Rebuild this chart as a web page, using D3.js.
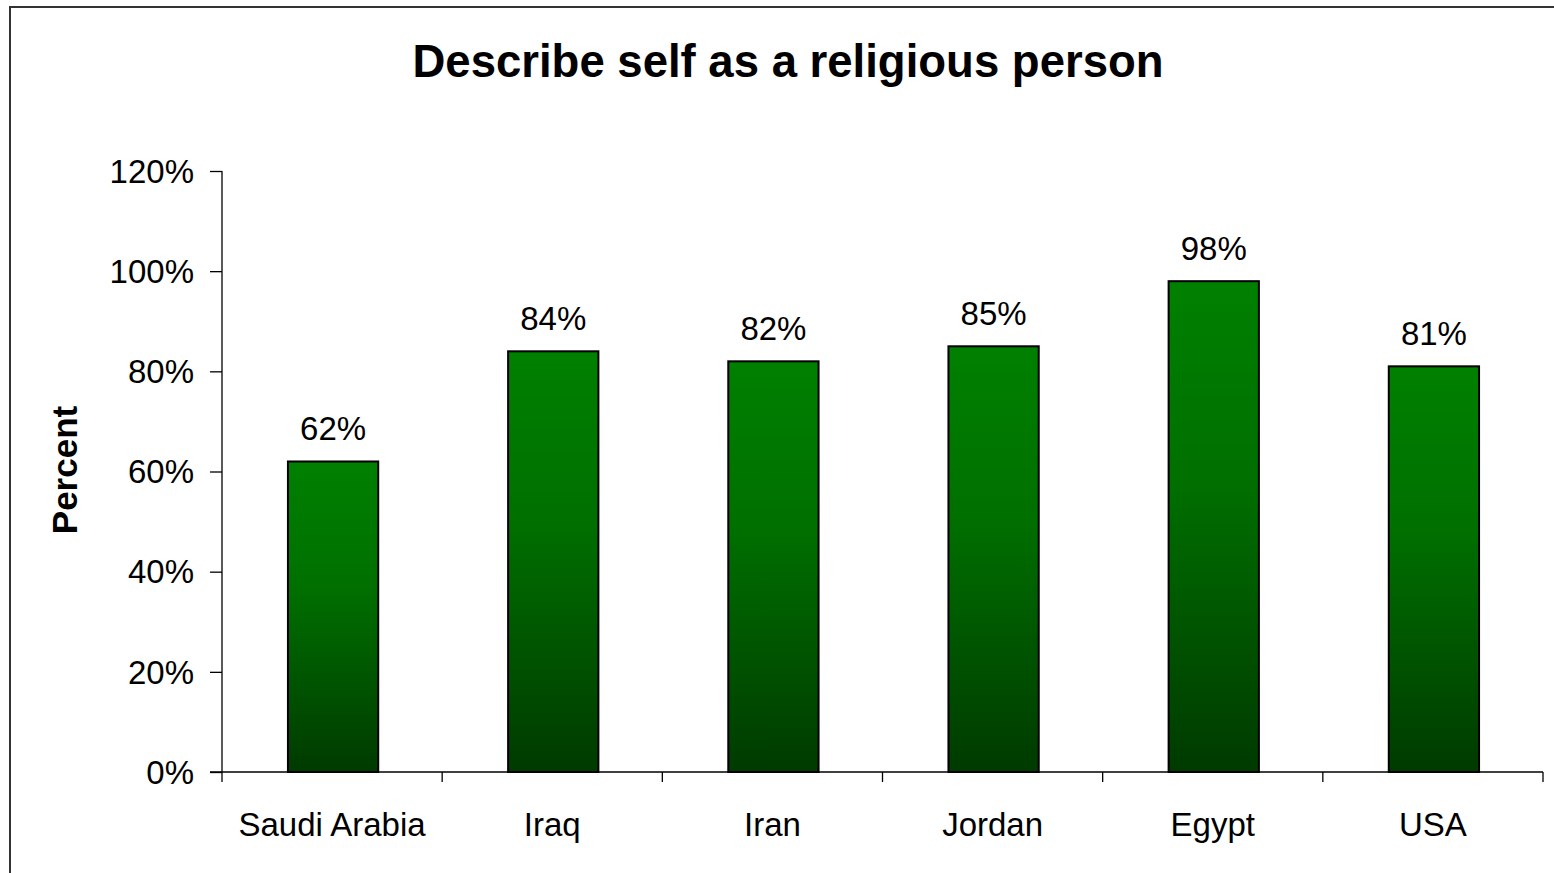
<!DOCTYPE html>
<html><head><meta charset="utf-8">
<script src="https://cdn.jsdelivr.net/npm/d3@7"></script>
<style>html,body{margin:0;padding:0;background:#fff;overflow:hidden}</style>
</head><body>
<svg id="chart" width="1554" height="873"></svg>
<script>
const categories = ["Saudi Arabia", "Iraq", "Iran", "Jordan", "Egypt", "USA"];
const values = [62, 84, 82, 85, 98, 81];
const yTicks = [0, 20, 40, 60, 80, 100, 120];
const title = "Describe self as a religious person";
const yTitle = "Percent";

const svg = d3.select("#chart");
const font = "'Liberation Sans', Arial, sans-serif";

// frame
svg.append("rect").attr("x", 10).attr("y", 7).attr("width", 1560).attr("height", 880)
  .attr("fill", "none").attr("stroke", "#333").attr("stroke-width", 2);

const m = {left: 222, right: 1543, top: 171, bottom: 772};
const x = d3.scaleBand().domain(categories).range([m.left, m.right]).paddingInner(0.59).paddingOuter(0.295);
const xOuter = d3.scaleBand().domain(categories).range([m.left, m.right]);
const y = d3.scaleLinear().domain([0, 120]).range([m.bottom, m.top]);

const defs = svg.append("defs");
const grad = defs.append("linearGradient").attr("id", "g").attr("x1", 0).attr("y1", 0).attr("x2", 0).attr("y2", 1);
grad.append("stop").attr("offset", "0%").attr("stop-color", "#008000");
grad.append("stop").attr("offset", "40%").attr("stop-color", "#007000");
grad.append("stop").attr("offset", "100%").attr("stop-color", "#003a00");

// title
svg.append("text").attr("x", 788).attr("y", 77).attr("text-anchor", "middle")
  .attr("font-family", font).attr("font-weight", "bold").attr("font-size", 45.5).text(title);

// y axis
const yAxis = svg.append("g").attr("transform", `translate(${m.left},0)`)
  .call(d3.axisLeft(y).tickValues(yTicks).tickFormat(d => d + "%").tickSize(12).tickPadding(16));
yAxis.select(".domain").attr("stroke", "#000").attr("stroke-width", 1.3).attr("d", `M0,${m.top}V${m.bottom}`);
yAxis.selectAll("line").attr("stroke", "#000").attr("stroke-width", 1.3);
yAxis.selectAll("text").attr("font-family", font).attr("font-size", 33).attr("fill", "#000").attr("dy", "0.34em");

// bars
svg.append("g").selectAll("rect").data(values).join("rect")
  .attr("x", (d, i) => x(categories[i]) + 1)
  .attr("y", d => y(d))
  .attr("width", x.bandwidth())
  .attr("height", d => y(0) - y(d))
  .attr("fill", "url(#g)")
  .attr("stroke", "#000").attr("stroke-width", 2);

// x axis
const xAxisG = svg.append("g").attr("transform", `translate(0,${m.bottom})`);
xAxisG.append("line").attr("x1", m.left - 12).attr("x2", m.right).attr("y1", 0).attr("y2", 0)
  .attr("stroke", "#000").attr("stroke-width", 1.5);
const bounds = categories.map(c => xOuter(c)).concat([m.right]);
xAxisG.selectAll("line.t").data(bounds).join("line").attr("class", "t")
  .attr("x1", d => d).attr("x2", d => d).attr("y1", 0).attr("y2", 10)
  .attr("stroke", "#000").attr("stroke-width", 1.3);
xAxisG.selectAll("text").data(categories).join("text")
  .attr("x", d => xOuter(d) + xOuter.bandwidth() / 2).attr("y", 64)
  .attr("text-anchor", "middle").attr("font-family", font).attr("font-size", 33).text(d => d);

// data labels
svg.append("g").selectAll("text").data(values).join("text")
  .attr("x", (d, i) => x(categories[i]) + x.bandwidth() / 2 + 1)
  .attr("y", d => y(d) - 21)
  .attr("text-anchor", "middle").attr("font-family", font).attr("font-size", 33)
  .text(d => d + "%");

// y title
svg.append("text").attr("transform", "translate(77,470) rotate(-90)")
  .attr("text-anchor", "middle").attr("font-family", font).attr("font-weight", "bold")
  .attr("font-size", 35).text(yTitle);
</script>
</body></html>
